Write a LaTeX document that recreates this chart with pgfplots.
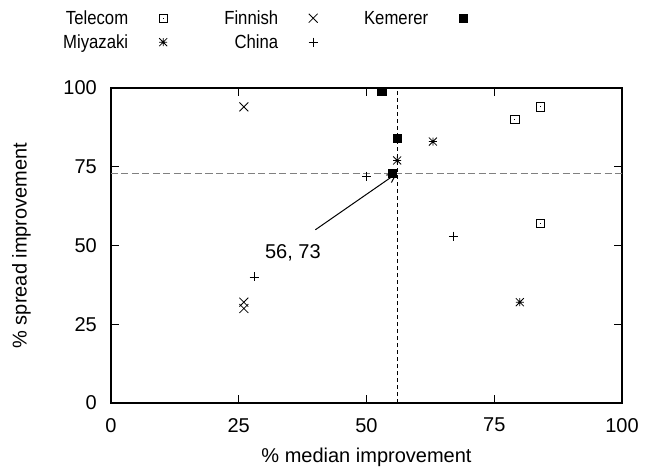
\documentclass[border=0pt]{standalone}
\usepackage{fontspec}
\setmainfont{Liberation Sans}
\usepackage{graphicx}
\usepackage{pgfplots}
\pgfplotsset{compat=1.18}
\usetikzlibrary{arrows.meta}

\pgfdeclareplotmark{sqdot}{%
  \pgfpathrectangle{\pgfqpoint{-\pgfplotmarksize}{-\pgfplotmarksize}}{\pgfqpoint{2\pgfplotmarksize}{2\pgfplotmarksize}}%
  \pgfusepathqstroke
  \pgfpathrectangle{\pgfqpoint{-0.6pt}{-0.6pt}}{\pgfqpoint{1.2pt}{1.2pt}}%
  \pgfusepathqfill}
\pgfdeclareplotmark{star8}{%
  \pgfpathmoveto{\pgfqpoint{-\pgfplotmarksize}{0pt}}\pgfpathlineto{\pgfqpoint{\pgfplotmarksize}{0pt}}%
  \pgfpathmoveto{\pgfqpoint{0pt}{-\pgfplotmarksize}}\pgfpathlineto{\pgfqpoint{0pt}{\pgfplotmarksize}}%
  \pgfpathmoveto{\pgfqpoint{-\pgfplotmarksize}{-\pgfplotmarksize}}\pgfpathlineto{\pgfqpoint{\pgfplotmarksize}{\pgfplotmarksize}}%
  \pgfpathmoveto{\pgfqpoint{-\pgfplotmarksize}{\pgfplotmarksize}}\pgfpathlineto{\pgfqpoint{\pgfplotmarksize}{-\pgfplotmarksize}}%
  \pgfusepathqstroke}

\newcommand{\lab}[1]{\makebox[100bp][r]{\scalebox{0.88}[1]{\fontsize{19bp}{22bp}\selectfont #1}}}

\begin{document}
\begin{tikzpicture}[font=\fontsize{20bp}{24bp}\selectfont]
\begin{axis}[
  name=ax,
  scale only axis,
  width=511bp, height=315bp,
  xmin=0, xmax=100, ymin=0, ymax=100,
  xtick={0,25,50,75,100}, ytick={0,25,50,75,100},
  tick align=inside,
  major tick length=8bp,
  every tick/.style={black, line width=1bp},
  axis line style={line width=1.1bp},
  /pgf/number format/assume math mode=true,
  ticklabel style={font=\fontsize{20bp}{24bp}\selectfont},
  xticklabel style={inner sep=0pt, yshift=-15bp},
  yticklabel style={inner sep=0pt, xshift=-14bp},
  xlabel={\% median improvement},
  ylabel={\% spread improvement},
  xlabel style={at={(axis description cs:0.5,0)}, anchor=base, yshift=-59bp},
  ylabel style={at={(axis description cs:-0.165,0.5)}, rotate=0, anchor=base},
  clip=false,
  legend plot pos=right,
  legend columns=3,
  legend image code/.code={%
    \path[draw=none,fill=none] (0bp,-4bp) rectangle (50bp,14bp);
    \draw[#1] plot coordinates {(35bp,6bp)};},
  legend style={
    at={(-0.1624,1.2476)}, anchor=north west,
    draw=none, fill=none, inner sep=0pt,
    row sep=6bp,
    cells={anchor=base},
    nodes={inner sep=0pt, text height=14bp, text depth=4bp},
  },
]
\addplot[only marks, mark=sqdot, mark size=4.3bp, black, line width=0.8bp]
  coordinates {(84,94) (79,90) (84,57)};
\addlegendentry{\lab{Telecom}}
\addplot[only marks, mark=x, mark size=6.3bp, black, line width=0.8bp]
  coordinates {(26,94) (26,32) (26,30)};
\addlegendentry{\lab{Finnish}}
\addplot[only marks, mark=square*, mark size=4.3bp, black]
  coordinates {(53,99) (56,84) (55,73)};
\addlegendentry{\lab{Kemerer}}
\addplot[only marks, mark=star8, mark size=4bp, black, line width=0.8bp]
  coordinates {(56,77) (63,83) (80,32)};
\addlegendentry{\lab{Miyazaki}}
\addplot[only marks, mark=+, mark size=4.5bp, black, line width=0.8bp]
  coordinates {(50,72) (28,40) (67,53)};
\addlegendentry{\lab{China}}

\addplot[forget plot, black, line width=0.9bp, dash pattern=on 4.3bp off 2.7bp]
  coordinates {(56,0) (56,100)};
\addplot[forget plot, gray, line width=0.9bp, dash pattern=on 7bp off 3.5bp]
  coordinates {(0,73) (100,73)};

\draw[line width=1bp, -{Straight Barb[length=9bp,width=9bp]}] (axis cs:40,55) -- (axis cs:56,73);
\node[inner sep=0pt, anchor=base] at (axis cs:35.6,46) {56, 73};
\end{axis}
\pgfresetboundingbox
\path ([xshift=-111bp,yshift=-65bp]ax.south west) rectangle ([xshift=33bp,yshift=88bp]ax.north east);
\end{tikzpicture}
\end{document}
